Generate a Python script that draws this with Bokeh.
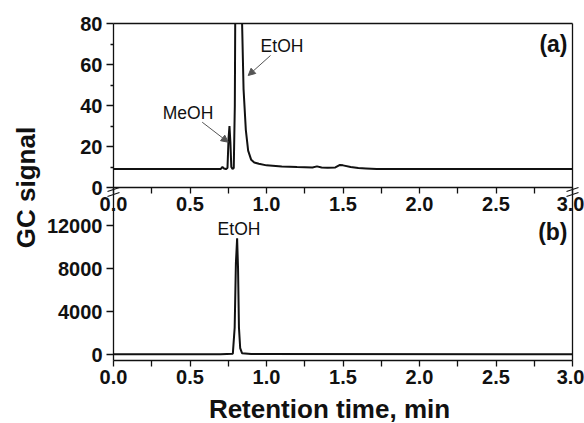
import math
from bokeh.plotting import figure
from bokeh.models import (Range1d, LinearAxis, FixedTicker, Label, Arrow,
                          NormalHead, PrintfTickFormatter)
from bokeh.embed import file_html
from bokeh.resources import INLINE

# ---------------- data ----------------
# (a) GC trace, zoomed signal axis (EtOH peak leaves the panel at its top)
time_a = [0.0, 0.70, 0.712, 0.722, 0.735, 0.745, 0.752, 0.758, 0.764, 0.770,
          0.778, 0.786, 0.793, 0.7955, 0.800, 0.810, 0.825, 0.8405, 0.850, 0.865,
          0.880, 0.900, 0.920, 0.950, 1.00, 1.10, 1.20, 1.30, 1.33, 1.36, 1.40,
          1.45, 1.48, 1.50, 1.55, 1.60, 1.65, 1.72, 3.0]
signal_a = [9.0, 9.0, 10.0, 9.3, 9.0, 9.5, 24.0, 30.0, 22.0, 10.0,
            9.0, 9.5, 40.0, 80.0, 150.0, 300.0, 200.0, 80.0, 48.0, 28.0,
            18.0, 13.5, 12.2, 11.6, 10.8, 10.3, 10.0, 9.8, 10.3, 9.8, 9.6,
            9.8, 11.0, 10.8, 10.0, 9.5, 9.3, 9.0, 9.0]
# (b) GC trace, full signal axis
time_b = [0.0, 0.70, 0.780, 0.792, 0.800, 0.808, 0.814, 0.820, 0.828, 0.840, 0.90, 3.0]
signal_b = [30, 30, 80, 2500, 8500, 10800, 8000, 2500, 600, 120, 40, 30]

x_ticks = [0.0, 0.5, 1.0, 1.5, 2.0, 2.5, 3.0]
x_minor = [0.25, 0.75, 1.25, 1.75, 2.25, 2.75]
a_ticks = [0, 20, 40, 60, 80]
a_minor = [10, 30, 50, 70]
b_ticks = [0, 4000, 8000, 12000]
a_top = 80

# ---------------- geometry (pixels of the reference picture) ----------------
W, H = 584, 423
X0_PX, X3_PX = 113, 572           # x = 0 and x = 3
B0_PX, B_PER_PX = 354, 4000 / 43  # panel (b): value 0, units per pixel
A80_PX, A_PER_PX = 23, 20 / 41    # panel (a): value 80, units per pixel
BREAK_PX, BOTTOM_PX = 187, 360


def xv(px):
    return (px - X0_PX) * 3 / (X3_PX - X0_PX)


def bv(py):
    return (B0_PX - py) * B_PER_PX


def av(py):
    return a_top - (py - A80_PX) * A_PER_PX


FONT = "Liberation Sans"
BLACK = "#111111"
GRAY = "#555555"

p = figure(width=W, height=H,
           x_range=Range1d(xv(0), xv(W)),
           y_range=Range1d(bv(H), bv(0)),
           x_axis_type=None, y_axis_type=None, title=None,
           output_backend="svg", toolbar_location=None,
           min_border=0, outline_line_color=None)
p.extra_y_ranges = {"a": Range1d(av(H), av(0))}
p.background_fill_color = "white"
p.border_fill_color = "white"


def make_axis(side, loc, bounds, ticks=(), minor=(), rng="default",
              tout=0, min_out=0, fmt=None):
    ax = LinearAxis(fixed_location=loc, bounds=bounds, y_range_name=rng,
                    ticker=FixedTicker(ticks=list(ticks), minor_ticks=list(minor)))
    if fmt:
        ax.formatter = PrintfTickFormatter(format=fmt)
    ax.axis_line_color = BLACK
    ax.axis_line_width = 1.3
    ax.major_tick_line_color = BLACK
    ax.major_tick_line_width = 1.3
    ax.minor_tick_line_color = BLACK
    ax.minor_tick_line_width = 1.3
    ax.major_tick_in = 0
    ax.major_tick_out = tout
    ax.minor_tick_in = 0
    ax.minor_tick_out = min_out
    ax.major_label_text_font = FONT
    ax.major_label_text_font_style = "bold"
    ax.major_label_text_font_size = "20px"
    ax.major_label_text_color = BLACK
    ax.major_label_standoff = 3 if side == "below" else 4
    p.add_layout(ax, side)
    return ax


x_bounds = (0, 3)
# bottom x axis (panel b) and x axis of panel (a) on the break line
make_axis("below", bv(BOTTOM_PX), x_bounds, x_ticks, x_minor, tout=6, min_out=6, fmt="%.1f")
make_axis("below", bv(BREAK_PX), x_bounds, x_ticks, x_minor, tout=6, min_out=6, fmt="%.1f")
# top border of panel (a)
make_axis("above", bv(A80_PX), x_bounds)
# left axes
make_axis("left", 0, (bv(BOTTOM_PX), bv(BREAK_PX)), b_ticks, tout=7)
make_axis("left", 0, (0, a_top), a_ticks, a_minor, rng="a", tout=7, min_out=3)
# right border
make_axis("right", 3, (bv(BOTTOM_PX), bv(A80_PX)))

# traces (panel a: the part above its axis is not drawn)
shown_a = [v if v <= a_top else float("nan") for v in signal_a]
p.line(time_a, shown_a, y_range_name="a", line_color=BLACK, line_width=2)
p.line(time_b, signal_b, line_color=BLACK, line_width=2)


def txt(x, y, s, rng="default", size="17.5px", bold=False, align="center",
        base="middle", angle=0):
    p.add_layout(Label(x=x, y=y, text=s, y_range_name=rng, text_font=FONT,
                       text_font_size=size, text_color=BLACK, angle=angle,
                       text_font_style="bold" if bold else "normal",
                       text_align=align, text_baseline=base))


txt(xv(187.5), av(112.5), "MeOH", rng="a")
txt(xv(281.5), av(45), "EtOH", rng="a")
txt(xv(238.5), bv(228), "EtOH")
txt(xv(567), av(30), "(a)", rng="a", size="23px", bold=True, align="right", base="top")
txt(xv(567), bv(218), "(b)", size="23px", bold=True, align="right", base="top")
txt(xv(329), bv(408), "Retention time, min", size="26px", bold=True)
txt(xv(25), bv(187), "GC signal", size="26px", bold=True, angle=math.pi / 2)

# annotation arrows
for (x0, y0, x1, y1) in [(201.7, 121.7, 227.7, 141.7), (270, 55, 247.7, 75)]:
    p.add_layout(Arrow(x_start=xv(x0), y_start=av(y0), x_end=xv(x1), y_end=av(y1),
                       y_range_name="a", line_color=GRAY, line_width=1,
                       end=NormalHead(size=7, fill_color=GRAY, line_color=GRAY)))

# axis-break marks
for xc in (X0_PX, X3_PX):
    for yc in (BREAK_PX + 2, BREAK_PX + 7):
        p.add_layout(Arrow(x_start=xv(xc - 6), y_start=bv(yc + 2),
                           x_end=xv(xc + 6), y_end=bv(yc - 2),
                           line_color=BLACK, line_width=1.3, start=None, end=None))

open("out.html", "w").write(file_html(p, INLINE))
